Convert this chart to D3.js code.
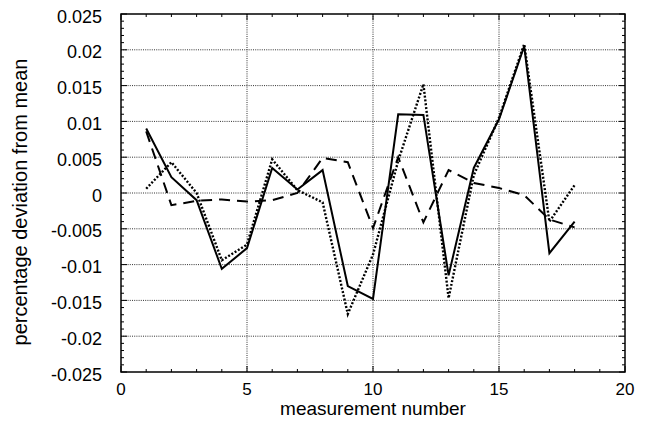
<!DOCTYPE html>
<html>
<head>
<meta charset="utf-8">
<script src="https://cdn.jsdelivr.net/npm/d3@7"></script>
<style>
  body { margin: 0; background: #fff; }
  text { font-family: "Liberation Sans", Arial, Helvetica, sans-serif; fill: #000; }
</style>
</head>
<body>
<div id="chart"></div>
<script>
// measurement numbers
var measurements = d3.range(1, 19);

// three runs
var solidSeries  = [0.0090, 0.0022, -0.0010, -0.0106, -0.0077, 0.0035, 0.0005, 0.0032, -0.0130, -0.0148,
                    0.0110, 0.0109, -0.0115, 0.0035, 0.0103, 0.0205, -0.0084, -0.0040];
var dottedSeries = [0.0006, 0.0043, 0.0000, -0.0094, -0.0072, 0.0047, 0.0004, -0.0013, -0.0169, -0.0086,
                    0.0045, 0.0152, -0.0147, 0.0025, 0.0105, 0.0208, -0.0040, 0.0011];
var dashedSeries = [0.0086, -0.0017, -0.0011, -0.0009, -0.0012, -0.0010, 0.0000, 0.0049, 0.0043, -0.0049,
                    0.0050, -0.0041, 0.0032, 0.0014, 0.0007, -0.0003, -0.0037, -0.0048];

var xTicks = [0, 5, 10, 15, 20];
var yTicks = [0.025, 0.02, 0.015, 0.01, 0.005, 0, -0.005, -0.01, -0.015, -0.02, -0.025];
var yTickLabels = ["0.025", "0.02", "0.015", "0.01", "0.005", "0", "-0.005", "-0.01", "-0.015", "-0.02", "-0.025"];

var width = 651, height = 421;
var margin = {top: 14, right: 26, bottom: 49, left: 121};

var svg = d3.select("#chart").append("svg")
    .attr("width", width)
    .attr("height", height);

var x = d3.scaleLinear().domain([0, 20]).range([margin.left, width - margin.right]);
var y = d3.scaleLinear().domain([-0.025, 0.025]).range([height - margin.bottom, margin.top]);

// grid
var grid = svg.append("g").attr("stroke", "#333").attr("stroke-width", 1).attr("stroke-dasharray", "1,1.2");
grid.selectAll(".gx").data(xTicks.slice(1, -1)).enter().append("line")
    .attr("x1", d => x(d)).attr("x2", d => x(d))
    .attr("y1", y(0.025)).attr("y2", y(-0.025));
grid.selectAll(".gy").data(yTicks.slice(1, -1)).enter().append("line")
    .attr("y1", d => y(d)).attr("y2", d => y(d))
    .attr("x1", x(0)).attr("x2", x(20));

// inward ticks on all four sides
var tickG = svg.append("g").attr("stroke", "#000").attr("stroke-width", 1);
var xMinor = d3.range(0, 21);
var yMinor = d3.range(-25, 26).map(d => d / 1000);
xMinor.forEach(function(d) {
  var len = (d % 5 === 0) ? 6 : 3;
  tickG.append("line").attr("x1", x(d)).attr("x2", x(d)).attr("y1", y(-0.025)).attr("y2", y(-0.025) - len);
  tickG.append("line").attr("x1", x(d)).attr("x2", x(d)).attr("y1", y(0.025)).attr("y2", y(0.025) + len);
});
yMinor.forEach(function(d, i) {
  var len = (i % 5 === 0) ? 6 : 3;
  tickG.append("line").attr("y1", y(d)).attr("y2", y(d)).attr("x1", x(0)).attr("x2", x(0) + len);
  tickG.append("line").attr("y1", y(d)).attr("y2", y(d)).attr("x1", x(20)).attr("x2", x(20) - len);
});

// frame
svg.append("rect")
    .attr("x", x(0)).attr("y", y(0.025))
    .attr("width", x(20) - x(0)).attr("height", y(-0.025) - y(0.025))
    .attr("fill", "none").attr("stroke", "#000").attr("stroke-width", 1.5);

// series
var line = d3.line().x((d, i) => x(measurements[i])).y(d => y(d));

svg.append("path").datum(dashedSeries).attr("d", line)
    .attr("fill", "none").attr("stroke", "#000").attr("stroke-width", 2)
    .attr("stroke-dasharray", "11,7");
svg.append("path").datum(dottedSeries).attr("d", line)
    .attr("fill", "none").attr("stroke", "#000").attr("stroke-width", 2.4)
    .attr("stroke-dasharray", "2,1.8");
svg.append("path").datum(solidSeries).attr("d", line)
    .attr("fill", "none").attr("stroke", "#000").attr("stroke-width", 2);

// tick labels
svg.selectAll(".xl").data(xTicks).enter().append("text")
    .attr("x", d => x(d)).attr("y", 395)
    .attr("text-anchor", "middle")
    .style("font-size", "17px")
    .text(d => d);

svg.selectAll(".yl").data(yTicks).enter().append("text")
    .attr("x", 102).attr("y", d => y(d) + 8.5)
    .attr("text-anchor", "end")
    .style("font-size", "18px")
    .text((d, i) => yTickLabels[i]);

// axis titles
svg.append("text")
    .attr("x", (x(0) + x(20)) / 2).attr("y", 415)
    .attr("text-anchor", "middle")
    .style("font-size", "19px")
    .text("measurement number");

svg.append("text")
    .attr("transform", "translate(27," + 202 + ") rotate(-90)")
    .attr("text-anchor", "middle")
    .style("font-size", "20px")
    .text("percentage deviation from mean");
</script>
</body>
</html>
